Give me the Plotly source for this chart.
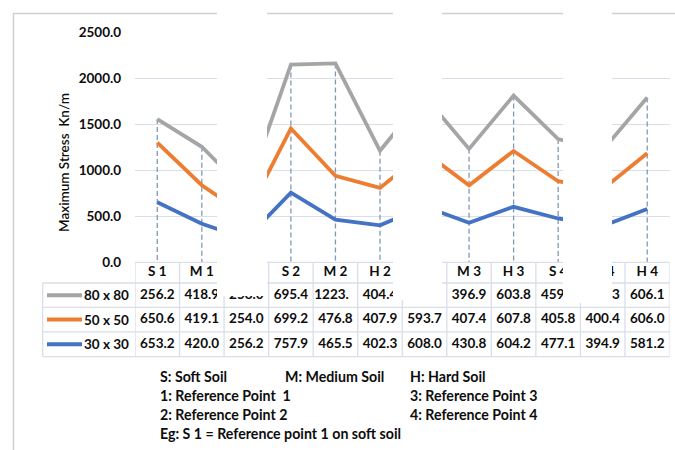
import numpy as np
import plotly.graph_objects as go

# ---------------- data ----------------
categories = ["S 1", "M 1", "H 1", "S 2", "M 2", "H 2", "S 3", "M 3", "H 3", "S 4", "M 4", "H 4"]
series_names = ["30 x 30", "50 x 50", "80 x 80"]
stress_30 = [653.2, 420.0, 256.2, 757.9, 465.5, 402.3, 608.0, 430.8, 604.2, 477.1, 394.9, 581.2]
stress_50 = [650.6, 419.1, 254.0, 699.2, 476.8, 407.9, 593.7, 407.4, 607.8, 405.8, 400.4, 606.0]
stress_80 = [256.2, 418.9, 258.0, 695.4, 1223.4, 404.4, 605.5, 396.9, 603.8, 459.4, 426.3, 606.1]
y_ticks = [0, 500, 1000, 1500, 2000, 2500]
notes = [
    ["S: Soft Soil", "M: Medium Soil", "H: Hard Soil"],
    ["1: Reference Point  1", "", "3: Reference Point 3"],
    ["2: Reference Point 2", "", "4: Reference Point 4"],
    ["Eg: S 1 = Reference point 1 on soft soil", "", ""],
]

# ---------------- styles / layout constants ----------------
W, H = 675, 450
colors = {"30 x 30": "#4472C4", "50 x 50": "#ED7D31", "80 x 80": "#A5A5A5"}
GRID = "#D9DEE8"
BORDER = "#D0D0D0"
DROP = "#8397B8"
FONT = "Lato"
TXT = "#0D0D0D"

PLOT_L, PLOT_R, PLOT_T, PLOT_B = 135, 669.5, 32.7, 262.3
ROW_LINES = [283.0, 307.3, 331.8, 356.7]
TABLE_L = 42.7


def fx(px):
    return px / W


def fy(py):
    return 1 - py / H


series = {"30 x 30": stress_30, "50 x 50": stress_50, "80 x 80": stress_80}
stacked = np.cumsum(np.array([stress_30, stress_50, stress_80]), axis=0)
top = stacked[-1]

fig = go.Figure()

# drop lines (from top series to axis)
dx, dy = [], []
for c, t in zip(categories, top):
    dx += [c, c, None]
    dy += [t, 0, None]
fig.add_trace(go.Scatter(x=dx, y=dy, mode="lines",
                         line=dict(color=DROP, width=1.3, dash="5px,3px"),
                         hoverinfo="skip", showlegend=False))

for name, cum in zip(series_names, stacked):
    fig.add_trace(go.Scatter(x=categories, y=cum, mode="lines", name=name,
                             line=dict(color=colors[name], width=3.8),
                             showlegend=False))

# ---------------- data table (text via traces so the white patches can cover it) ----------------
header_y = (PLOT_B + ROW_LINES[0]) / 2
fig.add_trace(go.Scatter(x=categories, y=[header_y] * len(categories), text=categories,
                         mode="text", xaxis="x", yaxis="y2", cliponaxis=False,
                         textfont=dict(family=FONT, size=13.5, color=TXT, weight="bold"),
                         hoverinfo="skip", showlegend=False))


def cell_text(v):
    s = f"{v:.1f}"
    if len(s) > 5:  # cell too narrow: trailing chars are clipped
        return s[:5] + "<span style='color:rgba(0,0,0,0)'>" + s[5:] + "</span>"
    return s


row_order = ["80 x 80", "50 x 50", "30 x 30"]
for r, name in enumerate(row_order):
    yc = (ROW_LINES[r] + ROW_LINES[r + 1]) / 2
    fig.add_trace(go.Scatter(x=categories, y=[yc] * len(categories),
                             text=[cell_text(v) for v in series[name]],
                             mode="text", xaxis="x", yaxis="y2", cliponaxis=False,
                             textfont=dict(family=FONT, size=13.5, color=TXT, weight="bold"),
                             hoverinfo="skip", showlegend=False))

shapes = []
annotations = []

# table borders
n = len(categories)
for i in range(n + 1):
    shapes.append(dict(type="line", xref="x", yref="y2", x0=i - 0.5, x1=i - 0.5,
                       y0=PLOT_B, y1=ROW_LINES[-1], line=dict(color=GRID, width=1.3), layer="above"))
shapes.append(dict(type="line", xref="paper", yref="y2", x0=fx(TABLE_L), x1=fx(TABLE_L),
                   y0=ROW_LINES[0], y1=ROW_LINES[-1], line=dict(color=GRID, width=1.3), layer="above"))
shapes.append(dict(type="line", xref="paper", yref="y2", x0=fx(PLOT_L), x1=fx(PLOT_R),
                   y0=PLOT_B, y1=PLOT_B, line=dict(color=GRID, width=1.3), layer="above"))
for yl in ROW_LINES:
    shapes.append(dict(type="line", xref="paper", yref="y2", x0=fx(TABLE_L), x1=fx(PLOT_R),
                       y0=yl, y1=yl, line=dict(color=GRID, width=1.3), layer="above"))

# row labels with legend keys
for r, name in enumerate(row_order):
    yc = (ROW_LINES[r] + ROW_LINES[r + 1]) / 2
    shapes.append(dict(type="line", xref="paper", yref="paper", x0=fx(47), x1=fx(82),
                       y0=fy(yc), y1=fy(yc), line=dict(color=colors[name], width=4), layer="above"))
    annotations.append(dict(xref="paper", yref="paper", x=fx(130.5), y=fy(yc), xanchor="right",
                            yanchor="middle", text=name, showarrow=False,
                            font=dict(family=FONT, size=13.5, color=TXT, weight="bold")))

# chart area border (top and left)
shapes.append(dict(type="line", xref="paper", yref="paper", x0=fx(13), x1=1, y0=fy(13.5), y1=fy(13.5),
                   line=dict(color=BORDER, width=1.5), layer="above"))
shapes.append(dict(type="line", xref="paper", yref="paper", x0=fx(13.5), x1=fx(13.5), y0=fy(13), y1=0,
                   line=dict(color=BORDER, width=1.5), layer="above"))

# white masking patches
for (x0, x1, yb) in [(217, 267, 296), (393, 442, 300), (563, 612, 303)]:
    shapes.append(dict(type="rect", xref="paper", yref="paper", x0=fx(x0), x1=fx(x1),
                       y0=fy(yb), y1=1, fillcolor="white", line=dict(width=0), layer="above"))

# y-axis title
annotations.append(dict(xref="paper", yref="paper", x=fx(64), y=fy(163), textangle=-90,
                        text="Maximum Stress  Kn/m", showarrow=False, xanchor="center", yanchor="middle",
                        font=dict(family=FONT, size=13.5, color=TXT, weight=600)))

# explanatory notes
note_x = [158, 283, 408]
note_y = [376, 395, 414, 433]
for r, row in enumerate(notes):
    for c, t in enumerate(row):
        if t:
            annotations.append(dict(xref="paper", yref="paper", x=fx(note_x[c]), y=fy(note_y[r]),
                                    xanchor="left", yanchor="middle", text=t, showarrow=False,
                                    font=dict(family=FONT, size=14.2, color=TXT, weight="bold")))

fig.update_layout(
    template="none",
    width=W, height=H,
    autosize=False,
    margin=dict(l=0, r=0, t=0, b=0, pad=0, autoexpand=False),
    paper_bgcolor="white",
    plot_bgcolor="rgba(0,0,0,0)",
    showlegend=False,
    xaxis=dict(type="category", categoryorder="array", categoryarray=categories,
               domain=[fx(PLOT_L), fx(PLOT_R)], range=[-0.5, n - 0.5],
               showticklabels=False, showgrid=False, zeroline=False, showline=False,
               ticks="", anchor="y", automargin=False),
    yaxis=dict(domain=[fy(PLOT_B), fy(PLOT_T)], range=[0, 2500], tickvals=y_ticks,
               tickformat=".1f", showgrid=True, gridcolor=GRID, gridwidth=1.3,
               zeroline=False, showline=False, ticks="", ticklabelstandoff=13,
               tickfont=dict(family=FONT, size=13.5, color=TXT, weight="bold"), anchor="x",
               automargin=False),
    yaxis2=dict(domain=[0, 1], range=[H, 0], visible=False, anchor="x",
                showgrid=False, zeroline=False, automargin=False),
)
fig.update_layout(shapes=shapes, annotations=annotations)

fig.write_html("out.html", config={"displayModeBar": False, "staticPlot": True},
               post_script="document.body.style.margin='0px';document.body.style.padding='0px';")
